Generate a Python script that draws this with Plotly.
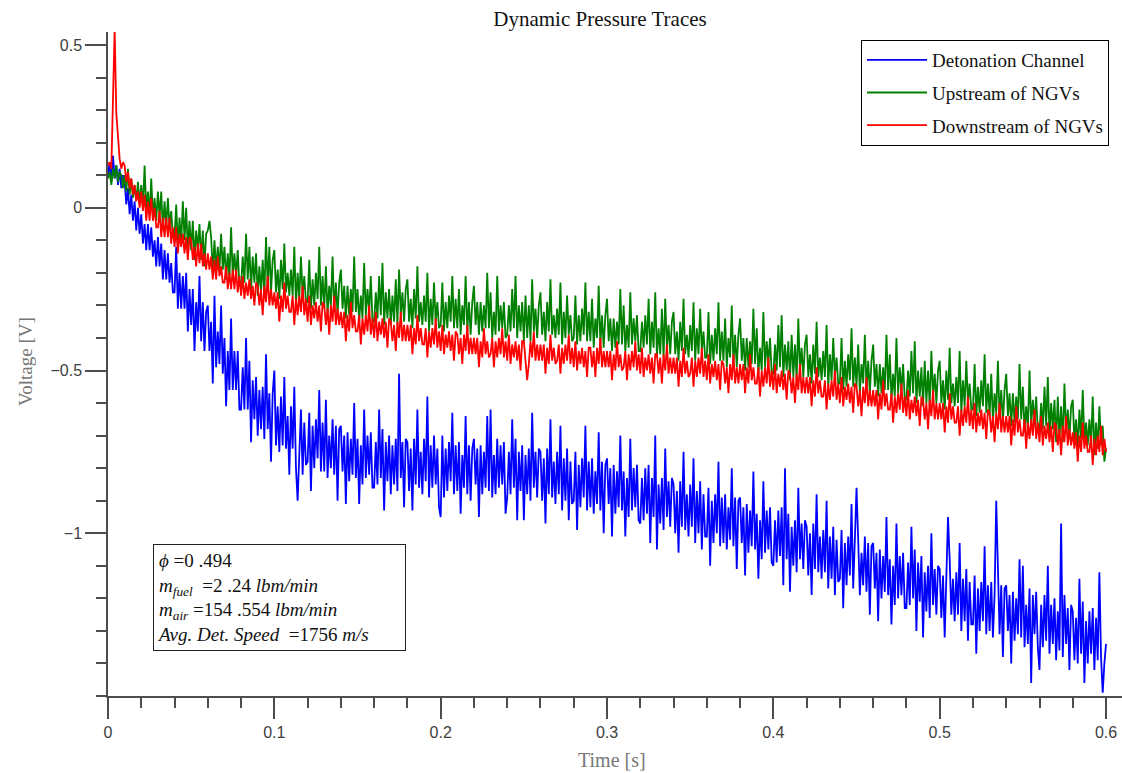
import numpy as np
import plotly.graph_objects as go

SAMPLE_DT = 0.001

detonation_channel = [
    0.10, 0.14, 0.08, 0.16, 0.09, 0.13, 0.07, 0.12, 0.06, 0.10,
    0.08, 0.01, 0.06, -0.02, 0.04, -0.04, 0.02, -0.07, 0.00, -0.08,
    -0.02, -0.11, -0.05, -0.13, -0.05, -0.13, -0.06, -0.15, -0.10, -0.18,
    -0.09, -0.18, -0.11, -0.22, -0.13, -0.22, -0.14, -0.23, -0.17, -0.26,
    -0.26, -0.12, -0.31, -0.20, -0.31, -0.21, -0.31, -0.20, -0.38, -0.25,
    -0.36, -0.25, -0.44, -0.29, -0.38, -0.21, -0.41, -0.29, -0.44, -0.32,
    -0.30, -0.44, -0.35, -0.54, -0.27, -0.49, -0.38, -0.48, -0.30, -0.51,
    -0.40, -0.61, -0.44, -0.56, -0.34, -0.56, -0.44, -0.56, -0.44, -0.62,
    -0.62, -0.49, -0.62, -0.40, -0.62, -0.47, -0.72, -0.53, -0.65, -0.52,
    -0.70, -0.56, -0.68, -0.55, -0.71, -0.45, -0.68, -0.57, -0.78, -0.57,
    -0.50, -0.73, -0.61, -0.75, -0.58, -0.73, -0.52, -0.74, -0.64, -0.82,
    -0.61, -0.74, -0.55, -0.80, -0.90, -0.77, -0.62, -0.82, -0.66, -0.79,
    -0.78, -0.63, -0.87, -0.67, -0.80, -0.65, -0.77, -0.56, -0.81, -0.66,
    -0.81, -0.59, -0.83, -0.70, -0.80, -0.65, -0.82, -0.67, -0.90, -0.68,
    -0.67, -0.81, -0.70, -0.91, -0.69, -0.84, -0.71, -0.82, -0.60, -0.83,
    -0.71, -0.91, -0.73, -0.85, -0.62, -0.83, -0.70, -0.82, -0.69, -0.86,
    -0.86, -0.72, -0.85, -0.62, -0.83, -0.68, -0.93, -0.72, -0.84, -0.70,
    -0.88, -0.73, -0.85, -0.71, -0.87, -0.51, -0.83, -0.72, -0.92, -0.71,
    -0.72, -0.87, -0.74, -0.93, -0.71, -0.85, -0.62, -0.86, -0.75, -0.88,
    -0.71, -0.84, -0.58, -0.89, -0.73, -0.86, -0.70, -0.85, -0.74, -0.92,
    -0.95, -0.70, -0.89, -0.74, -0.87, -0.72, -0.84, -0.63, -0.88, -0.73,
    -0.87, -0.72, -0.94, -0.76, -0.86, -0.64, -0.88, -0.73, -0.90, -0.74,
    -0.71, -0.85, -0.74, -0.95, -0.73, -0.88, -0.75, -0.86, -0.64, -0.87,
    -0.62, -0.89, -0.76, -0.88, -0.71, -0.86, -0.73, -0.85, -0.72, -0.94,
    -0.89, -0.75, -0.88, -0.65, -0.86, -0.71, -0.96, -0.75, -0.87, -0.73,
    -0.96, -0.76, -0.88, -0.74, -0.90, -0.63, -0.86, -0.75, -0.89, -0.74,
    -0.75, -0.90, -0.77, -0.97, -0.74, -0.88, -0.65, -0.89, -0.78, -0.91,
    -0.75, -0.88, -0.67, -0.93, -0.77, -0.90, -0.74, -0.96, -0.78, -0.91,
    -0.90, -0.75, -0.99, -0.79, -0.92, -0.77, -0.89, -0.67, -0.93, -0.78,
    -0.92, -0.77, -0.94, -0.81, -0.91, -0.69, -0.93, -0.78, -1.00, -0.79,
    -0.77, -0.91, -0.80, -1.01, -0.79, -0.94, -0.81, -0.92, -0.70, -0.93,
    -0.81, -1.01, -0.83, -0.95, -0.71, -0.93, -0.80, -0.92, -0.79, -0.96,
    -0.97, -0.83, -0.96, -0.80, -0.94, -0.79, -1.03, -0.83, -0.95, -0.70,
    -1.05, -0.85, -0.97, -0.83, -0.99, -0.74, -0.95, -0.84, -0.98, -0.83,
    -0.85, -1.00, -0.87, -1.06, -0.84, -0.98, -0.75, -0.99, -0.88, -1.01,
    -0.85, -0.98, -0.77, -1.03, -0.87, -1.00, -0.84, -1.05, -0.88, -1.01,
    -1.01, -0.86, -1.10, -0.90, -1.03, -0.88, -1.00, -0.78, -1.04, -0.89,
    -1.03, -0.88, -1.05, -0.92, -1.02, -0.80, -1.04, -0.89, -1.11, -0.90,
    -0.89, -1.03, -0.92, -1.13, -0.91, -1.06, -0.93, -1.04, -0.81, -1.05,
    -0.94, -1.14, -0.96, -1.08, -0.84, -1.06, -0.93, -1.05, -0.92, -1.09,
    -1.10, -0.96, -1.09, -0.93, -1.07, -0.92, -1.16, -0.80, -1.08, -0.94,
    -1.18, -0.98, -1.10, -0.96, -1.12, -0.86, -1.08, -0.97, -1.11, -0.96,
    -0.98, -1.13, -1.00, -1.19, -0.97, -1.11, -0.88, -1.12, -1.01, -1.14,
    -0.99, -1.12, -0.90, -1.17, -1.01, -1.14, -0.98, -1.19, -1.02, -1.15,
    -1.14, -0.99, -1.23, -1.03, -1.16, -1.01, -1.13, -0.91, -1.17, -1.02,
    -0.86, -1.02, -1.19, -1.06, -1.16, -1.01, -1.18, -1.03, -1.25, -1.04,
    -1.03, -1.17, -1.06, -1.27, -1.05, -1.20, -1.07, -1.18, -0.95, -1.19,
    -1.08, -1.28, -1.10, -1.22, -0.97, -1.20, -1.07, -1.19, -1.06, -1.23,
    -1.23, -1.09, -1.22, -0.98, -1.20, -1.05, -1.30, -1.09, -1.21, -1.07,
    -1.32, -1.12, -1.24, -1.10, -1.26, -1.00, -1.22, -1.11, -1.25, -1.10,
    -1.11, -1.26, -1.13, -1.32, -1.10, -0.95, -1.08, -1.25, -1.14, -1.27,
    -1.12, -1.25, -1.03, -1.30, -1.14, -1.27, -1.11, -1.33, -1.15, -1.28,
    -1.28, -1.13, -1.37, -1.17, -1.30, -1.15, -1.27, -1.04, -1.31, -1.16,
    -1.30, -1.15, -1.32, -1.19, -0.90, -1.14, -1.31, -1.16, -1.38, -1.17,
    -1.16, -1.30, -1.19, -1.40, -1.18, -1.33, -1.20, -1.31, -1.08, -1.32,
    -1.10, -1.35, -1.22, -1.34, -1.17, -1.46, -1.19, -1.31, -1.18, -1.35,
    -1.42, -1.22, -1.35, -1.19, -1.33, -1.10, -1.37, -1.22, -1.34, -1.20,
    -1.39, -1.24, -1.36, -0.97, -1.38, -1.19, -1.34, -1.23, -1.42, -1.22,
    -1.24, -1.39, -1.26, -1.40, -1.14, -1.37, -1.21, -1.46, -1.27, -1.40,
    -1.24, -1.37, -1.23, -1.42, -1.26, -1.39, -1.12, -1.38, -1.49, -1.40,
    -1.34,
]

upstream_ngv = [
    0.09, 0.11, 0.07, 0.12, 0.09, 0.13, 0.08, 0.11, 0.10, 0.06,
    0.10, 0.05, 0.12, 0.04, 0.09, 0.03, 0.07, 0.02, 0.08, 0.01,
    0.07, 0.00, 0.13, -0.01, 0.05, -0.02, 0.09, -0.03, 0.03, -0.04,
    0.05, -0.03, 0.05, -0.07, 0.02, -0.06, 0.03, -0.06, -0.01, -0.09,
    -0.09, 0.01, -0.12, -0.03, -0.11, 0.02, -0.10, 0.00, -0.13, -0.04,
    -0.13, -0.04, -0.16, -0.07, -0.13, -0.05, -0.16, -0.07, -0.18, -0.08,
    -0.07, -0.04, -0.09, -0.20, -0.10, -0.19, -0.12, -0.19, -0.08, -0.19,
    -0.12, -0.22, -0.14, -0.22, -0.06, -0.21, -0.14, -0.21, -0.13, -0.24,
    -0.24, -0.15, -0.23, -0.08, -0.22, -0.12, -0.25, -0.15, -0.23, -0.14,
    -0.27, -0.18, -0.26, -0.16, -0.27, -0.09, -0.24, -0.12, -0.26, -0.16,
    -0.13, -0.26, -0.19, -0.28, -0.16, -0.25, -0.11, -0.26, -0.20, -0.27,
    -0.19, -0.27, -0.12, -0.30, -0.20, -0.28, -0.15, -0.27, -0.21, -0.29,
    -0.29, -0.16, -0.31, -0.22, -0.30, -0.20, -0.28, -0.12, -0.30, -0.21,
    -0.31, -0.18, -0.33, -0.24, -0.30, -0.15, -0.32, -0.23, -0.33, -0.23,
    -0.19, -0.31, -0.24, -0.34, -0.24, -0.33, -0.25, -0.32, -0.15, -0.32,
    -0.25, -0.35, -0.27, -0.34, -0.17, -0.33, -0.25, -0.32, -0.21, -0.35,
    -0.35, -0.26, -0.34, -0.21, -0.33, -0.17, -0.36, -0.26, -0.34, -0.25,
    -0.36, -0.27, -0.35, -0.22, -0.36, -0.19, -0.33, -0.26, -0.35, -0.25,
    -0.22, -0.35, -0.28, -0.37, -0.25, -0.34, -0.18, -0.35, -0.29, -0.36,
    -0.27, -0.35, -0.20, -0.38, -0.28, -0.36, -0.23, -0.35, -0.29, -0.37,
    -0.36, -0.23, -0.38, -0.29, -0.37, -0.27, -0.35, -0.21, -0.37, -0.28,
    -0.37, -0.25, -0.39, -0.30, -0.36, -0.21, -0.38, -0.29, -0.39, -0.29,
    -0.24, -0.36, -0.29, -0.39, -0.29, -0.38, -0.30, -0.37, -0.20, -0.37,
    -0.26, -0.40, -0.32, -0.39, -0.21, -0.38, -0.30, -0.37, -0.29, -0.40,
    -0.39, -0.30, -0.38, -0.25, -0.37, -0.21, -0.40, -0.30, -0.38, -0.29,
    -0.41, -0.27, -0.40, -0.30, -0.41, -0.22, -0.38, -0.31, -0.40, -0.30,
    -0.26, -0.39, -0.32, -0.41, -0.29, -0.38, -0.22, -0.39, -0.33, -0.40,
    -0.31, -0.39, -0.23, -0.42, -0.32, -0.40, -0.27, -0.39, -0.33, -0.41,
    -0.40, -0.27, -0.42, -0.33, -0.41, -0.31, -0.39, -0.23, -0.41, -0.32,
    -0.41, -0.28, -0.43, -0.34, -0.40, -0.24, -0.42, -0.33, -0.43, -0.33,
    -0.28, -0.41, -0.34, -0.44, -0.34, -0.43, -0.35, -0.42, -0.25, -0.42,
    -0.30, -0.44, -0.36, -0.43, -0.26, -0.42, -0.34, -0.41, -0.33, -0.44,
    -0.44, -0.35, -0.43, -0.33, -0.42, -0.28, -0.45, -0.35, -0.43, -0.26,
    -0.46, -0.37, -0.45, -0.31, -0.46, -0.28, -0.43, -0.36, -0.45, -0.35,
    -0.32, -0.45, -0.38, -0.47, -0.35, -0.44, -0.28, -0.45, -0.39, -0.46,
    -0.36, -0.44, -0.29, -0.47, -0.37, -0.45, -0.31, -0.44, -0.38, -0.46,
    -0.46, -0.32, -0.48, -0.39, -0.47, -0.37, -0.45, -0.29, -0.47, -0.38,
    -0.47, -0.34, -0.49, -0.40, -0.46, -0.30, -0.48, -0.39, -0.49, -0.39,
    -0.34, -0.47, -0.40, -0.50, -0.40, -0.49, -0.41, -0.48, -0.31, -0.48,
    -0.37, -0.51, -0.43, -0.50, -0.32, -0.49, -0.41, -0.48, -0.40, -0.51,
    -0.51, -0.42, -0.50, -0.36, -0.49, -0.33, -0.52, -0.42, -0.50, -0.41,
    -0.53, -0.39, -0.52, -0.42, -0.53, -0.34, -0.50, -0.43, -0.52, -0.42,
    -0.39, -0.52, -0.45, -0.54, -0.42, -0.51, -0.35, -0.52, -0.46, -0.53,
    -0.44, -0.52, -0.36, -0.55, -0.45, -0.53, -0.40, -0.52, -0.46, -0.54,
    -0.54, -0.40, -0.56, -0.47, -0.55, -0.45, -0.53, -0.37, -0.55, -0.46,
    -0.55, -0.42, -0.57, -0.48, -0.54, -0.39, -0.56, -0.47, -0.57, -0.47,
    -0.42, -0.55, -0.48, -0.58, -0.48, -0.57, -0.49, -0.56, -0.39, -0.56,
    -0.45, -0.59, -0.51, -0.58, -0.40, -0.57, -0.49, -0.56, -0.48, -0.59,
    -0.59, -0.50, -0.58, -0.44, -0.57, -0.41, -0.60, -0.50, -0.58, -0.49,
    -0.61, -0.47, -0.60, -0.50, -0.61, -0.44, -0.58, -0.51, -0.60, -0.50,
    -0.47, -0.60, -0.53, -0.62, -0.50, -0.59, -0.43, -0.60, -0.54, -0.61,
    -0.52, -0.60, -0.44, -0.63, -0.53, -0.61, -0.47, -0.60, -0.54, -0.62,
    -0.62, -0.48, -0.64, -0.55, -0.63, -0.53, -0.61, -0.45, -0.63, -0.54,
    -0.64, -0.51, -0.66, -0.57, -0.63, -0.47, -0.65, -0.56, -0.66, -0.56,
    -0.51, -0.64, -0.57, -0.67, -0.57, -0.66, -0.58, -0.65, -0.48, -0.65,
    -0.55, -0.69, -0.61, -0.68, -0.50, -0.67, -0.59, -0.66, -0.58, -0.69,
    -0.69, -0.60, -0.68, -0.55, -0.67, -0.52, -0.70, -0.60, -0.68, -0.59,
    -0.72, -0.58, -0.71, -0.61, -0.72, -0.54, -0.69, -0.62, -0.71, -0.61,
    -0.59, -0.72, -0.65, -0.74, -0.62, -0.71, -0.56, -0.72, -0.66, -0.73,
    -0.65, -0.73, -0.58, -0.76, -0.66, -0.74, -0.61, -0.73, -0.67, -0.78,
    -0.74,
]

downstream_ngv = [
    0.13, 0.14, 0.12, 0.30, 0.55, 0.29, 0.20, 0.15, 0.12, 0.14,
    0.13, 0.08, 0.11, 0.06, 0.09, 0.04, 0.07, 0.02, 0.05, 0.00,
    0.05, -0.01, 0.04, -0.04, 0.02, -0.04, 0.03, -0.04, 0.00, -0.06,
    -0.06, -0.01, -0.09, -0.03, -0.09, -0.03, -0.09, -0.03, -0.11, -0.06,
    -0.12, -0.06, -0.14, -0.08, -0.12, -0.08, -0.14, -0.09, -0.16, -0.09,
    -0.10, -0.16, -0.12, -0.18, -0.11, -0.17, -0.11, -0.18, -0.14, -0.19,
    -0.14, -0.19, -0.15, -0.22, -0.16, -0.22, -0.15, -0.21, -0.18, -0.23,
    -0.23, -0.18, -0.25, -0.20, -0.25, -0.19, -0.25, -0.19, -0.26, -0.21,
    -0.27, -0.21, -0.28, -0.23, -0.27, -0.22, -0.28, -0.24, -0.30, -0.23,
    -0.24, -0.30, -0.25, -0.33, -0.24, -0.29, -0.21, -0.30, -0.25, -0.30,
    -0.26, -0.31, -0.26, -0.35, -0.27, -0.32, -0.23, -0.31, -0.27, -0.32,
    -0.32, -0.27, -0.36, -0.28, -0.33, -0.27, -0.32, -0.24, -0.33, -0.28,
    -0.35, -0.27, -0.36, -0.30, -0.34, -0.29, -0.35, -0.30, -0.38, -0.29,
    -0.30, -0.36, -0.31, -0.39, -0.30, -0.35, -0.27, -0.36, -0.31, -0.36,
    -0.32, -0.37, -0.32, -0.41, -0.33, -0.38, -0.29, -0.37, -0.33, -0.38,
    -0.38, -0.33, -0.42, -0.34, -0.39, -0.33, -0.38, -0.30, -0.39, -0.34,
    -0.40, -0.32, -0.41, -0.35, -0.39, -0.34, -0.40, -0.35, -0.43, -0.34,
    -0.35, -0.41, -0.36, -0.44, -0.35, -0.40, -0.32, -0.41, -0.36, -0.41,
    -0.36, -0.41, -0.36, -0.45, -0.37, -0.42, -0.33, -0.41, -0.37, -0.42,
    -0.42, -0.37, -0.46, -0.38, -0.43, -0.37, -0.42, -0.34, -0.43, -0.38,
    -0.44, -0.36, -0.45, -0.39, -0.43, -0.38, -0.44, -0.39, -0.47, -0.38,
    -0.39, -0.45, -0.40, -0.48, -0.39, -0.44, -0.36, -0.45, -0.40, -0.45,
    -0.40, -0.45, -0.40, -0.49, -0.41, -0.46, -0.37, -0.45, -0.41, -0.46,
    -0.45, -0.40, -0.49, -0.41, -0.46, -0.40, -0.45, -0.37, -0.46, -0.41,
    -0.47, -0.39, -0.48, -0.42, -0.46, -0.41, -0.47, -0.42, -0.50, -0.41,
    -0.41, -0.47, -0.53, -0.48, -0.41, -0.46, -0.38, -0.47, -0.42, -0.47,
    -0.42, -0.47, -0.42, -0.51, -0.43, -0.48, -0.39, -0.47, -0.43, -0.48,
    -0.47, -0.42, -0.51, -0.43, -0.48, -0.42, -0.47, -0.39, -0.48, -0.43,
    -0.49, -0.41, -0.50, -0.44, -0.48, -0.43, -0.49, -0.44, -0.52, -0.43,
    -0.43, -0.49, -0.44, -0.52, -0.43, -0.48, -0.40, -0.49, -0.44, -0.49,
    -0.44, -0.49, -0.44, -0.53, -0.45, -0.50, -0.41, -0.49, -0.45, -0.50,
    -0.49, -0.44, -0.53, -0.45, -0.50, -0.44, -0.49, -0.41, -0.50, -0.45,
    -0.51, -0.43, -0.52, -0.46, -0.50, -0.45, -0.51, -0.46, -0.54, -0.45,
    -0.45, -0.51, -0.46, -0.54, -0.45, -0.50, -0.42, -0.51, -0.46, -0.51,
    -0.46, -0.51, -0.46, -0.55, -0.47, -0.52, -0.43, -0.51, -0.47, -0.52,
    -0.51, -0.46, -0.55, -0.47, -0.52, -0.46, -0.51, -0.43, -0.52, -0.47,
    -0.53, -0.45, -0.54, -0.48, -0.52, -0.47, -0.53, -0.48, -0.56, -0.47,
    -0.48, -0.54, -0.49, -0.57, -0.48, -0.53, -0.45, -0.54, -0.49, -0.54,
    -0.48, -0.53, -0.48, -0.57, -0.49, -0.54, -0.45, -0.53, -0.49, -0.54,
    -0.54, -0.49, -0.58, -0.50, -0.55, -0.49, -0.54, -0.46, -0.55, -0.50,
    -0.56, -0.48, -0.57, -0.51, -0.55, -0.50, -0.56, -0.51, -0.59, -0.50,
    -0.51, -0.57, -0.52, -0.60, -0.51, -0.56, -0.48, -0.57, -0.52, -0.57,
    -0.52, -0.57, -0.52, -0.61, -0.53, -0.58, -0.49, -0.57, -0.53, -0.58,
    -0.58, -0.53, -0.62, -0.54, -0.59, -0.53, -0.58, -0.50, -0.59, -0.54,
    -0.60, -0.52, -0.61, -0.55, -0.59, -0.54, -0.60, -0.55, -0.63, -0.54,
    -0.55, -0.61, -0.56, -0.64, -0.55, -0.60, -0.52, -0.61, -0.56, -0.61,
    -0.56, -0.61, -0.56, -0.65, -0.57, -0.62, -0.53, -0.61, -0.57, -0.62,
    -0.62, -0.57, -0.66, -0.58, -0.63, -0.57, -0.62, -0.54, -0.63, -0.58,
    -0.64, -0.56, -0.65, -0.59, -0.63, -0.58, -0.64, -0.59, -0.67, -0.58,
    -0.59, -0.65, -0.60, -0.68, -0.59, -0.64, -0.56, -0.65, -0.60, -0.65,
    -0.60, -0.65, -0.60, -0.69, -0.61, -0.66, -0.57, -0.65, -0.61, -0.66,
    -0.66, -0.61, -0.70, -0.62, -0.67, -0.61, -0.66, -0.58, -0.67, -0.62,
    -0.68, -0.60, -0.69, -0.63, -0.67, -0.62, -0.68, -0.63, -0.71, -0.62,
    -0.63, -0.69, -0.64, -0.72, -0.63, -0.68, -0.60, -0.69, -0.64, -0.69,
    -0.64, -0.69, -0.64, -0.73, -0.65, -0.70, -0.61, -0.69, -0.65, -0.70,
    -0.70, -0.65, -0.74, -0.66, -0.71, -0.65, -0.70, -0.62, -0.71, -0.66,
    -0.72, -0.64, -0.73, -0.67, -0.71, -0.66, -0.72, -0.67, -0.75, -0.66,
    -0.67, -0.73, -0.68, -0.76, -0.67, -0.72, -0.64, -0.73, -0.68, -0.73,
    -0.69, -0.74, -0.69, -0.78, -0.70, -0.75, -0.66, -0.74, -0.70, -0.75,
    -0.75, -0.70, -0.79, -0.71, -0.76, -0.70, -0.75, -0.67, -0.76, -0.71,
    -0.75,
]

series_names = ["Detonation Channel", "Upstream of NGVs", "Downstream of NGVs"]
series_colors = ["#0000FF", "#008000", "#FF0000"]
y_major_ticks = [-1, -0.5, 0, 0.5]
y_major_labels = ["\u22121", "\u22120.5", "0", "0.5"]

SERIF = "Liberation Serif"
SANS = "Liberation Sans, Arial, sans-serif"
AXC = "#4d4d4d"

fig = go.Figure()
for i, (name, vals, col) in enumerate(zip(series_names,
                                          [detonation_channel, upstream_ngv, downstream_ngv],
                                          series_colors)):
    t = np.round(np.arange(len(vals)) * SAMPLE_DT, 4)
    fig.add_trace(go.Scatter(x=t, y=vals, mode="lines", name=name,
                             line=dict(color=col, width=1.8),
                             legendgroup=f"g{i}"))

fig.update_layout(
    width=1122, height=773,
    margin=dict(l=108, r=0, t=32, b=77),
    paper_bgcolor="white", plot_bgcolor="white",
    title=dict(text="Dynamic Pressure Traces", x=(600 - 108) / 1014, xref="paper", xanchor="center",
               y=1 - 19 / 773, yref="container", yanchor="middle",
               font=dict(family=SERIF, size=21, color="#111")),
    showlegend=True,
    legend=dict(x=(861 - 108) / 1014, y=0.988, xanchor="left", yanchor="top",
                bgcolor="white", bordercolor="#000", borderwidth=1,
                font=dict(family=SERIF, size=19, color="#111"),
                itemwidth=60, tracegroupgap=5, traceorder="grouped"),
)

fig.update_xaxes(
    range=[0, 0.6096], showgrid=False, zeroline=False,
    showline=True, linecolor=AXC, linewidth=1.5,
    ticks="outside", ticklen=21, tickwidth=1.5, tickcolor=AXC,
    tick0=0, dtick=0.1,
    tickfont=dict(family=SANS, size=16, color="#404040"),
    minor=dict(ticks="outside", ticklen=10, tickwidth=1.5, tickcolor=AXC,
               tick0=0, dtick=0.02, showgrid=False),
)
fig.update_yaxes(
    range=[-1.5, 0.54], showgrid=False, zeroline=False,
    showline=True, linecolor=AXC, linewidth=1.5,
    ticks="outside", ticklen=21, tickwidth=1.5, tickcolor=AXC,
    tickmode="array", tickvals=y_major_ticks, ticktext=y_major_labels,
    tickfont=dict(family=SANS, size=16, color="#404040"),
    minor=dict(ticks="outside", ticklen=10, tickwidth=1.5, tickcolor=AXC,
               tickmode="linear", tick0=0, dtick=0.1, showgrid=False),
)

fig.add_annotation(text="Time [s]", xref="paper", yref="paper", x=(612 - 108) / 1014,
                   y=-(760 - 696) / 664, xanchor="center", yanchor="middle", showarrow=False,
                   font=dict(family=SERIF, size=20, color="#777"))
fig.add_annotation(text="Voltage [V]", xref="paper", yref="paper", x=-(108 - 25) / 1014,
                   y=(696 - 362) / 664, xanchor="center", yanchor="middle", showarrow=False,
                   textangle=-90, font=dict(family=SERIF, size=19, color="#777"))

info = ("<i>ϕ</i> =0 .494<br>"
        "<i>m<sub>fuel</sub></i>  =2 .24 <i>lbm/min</i><br>"
        "<i>m<sub>air</sub></i> =154 .554 <i>lbm/min</i><br>"
        "<i>Avg. Det. Speed</i>  =1756 <i>m/s</i>")
fig.add_annotation(text=info, xref="paper", yref="paper", x=(153 - 108) / 1014,
                   y=(696 - 544) / 664, xanchor="left", yanchor="top", showarrow=False,
                   align="left", bgcolor="white", bordercolor="#222", borderwidth=1,
                   borderpad=3, width=245, height=99,
                   font=dict(family=SERIF, size=19, color="#111"))

fig.write_html("out.html")
